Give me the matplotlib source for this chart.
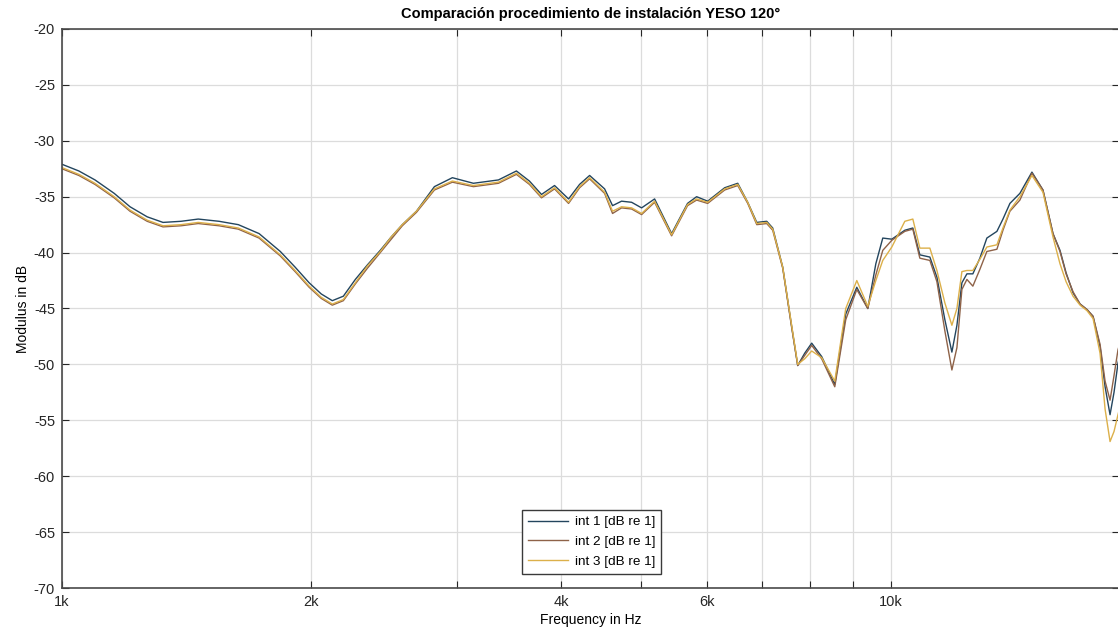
import numpy as np
import matplotlib.pyplot as plt
from matplotlib.ticker import FixedLocator, FixedFormatter, NullLocator

plt.rcParams['font.family'] = ['Liberation Sans', 'DejaVu Sans']
plt.rcParams['axes.unicode_minus'] = False

# frecuencias (Hz)
freq = [1000, 1048, 1096, 1156, 1208, 1267, 1324, 1392, 1460, 1547, 1632, 1729,
        1834, 1911, 1987, 2055, 2119, 2185, 2259, 2336, 2421, 2496, 2574, 2677,
        2814, 2958, 3136, 3362, 3534, 3664, 3789, 3929, 4085, 4212, 4331, 4515,
        4616, 4733, 4867, 5004, 5188, 5439, 5685, 5830, 6012, 6303, 6536, 6720,
        6891, 7084, 7203, 7406, 7592, 7721, 7872, 8027, 8253, 8558, 8823, 9098,
        9380, 9592, 9779, 10028, 10397, 10631, 10840, 11146, 11366, 11620, 11849,
        12016, 12183, 12354, 12560, 12807, 13058, 13428, 13655, 13922, 14314,
        14800, 15260, 15691, 16000, 16272, 16590, 16917, 17249, 17539, 17883,
        18135, 18387, 18591, 18797, 19163]

# módulo en dB de cada medición
int1 = [-32.1, -32.7, -33.5, -34.7, -35.9, -36.8, -37.3, -37.2, -37.0, -37.2, -37.5, -38.3,
        -39.9, -41.3, -42.7, -43.7, -44.3, -43.9, -42.4, -41.1, -39.8, -38.6, -37.5, -36.3,
        -34.1, -33.3, -33.8, -33.5, -32.7, -33.6, -34.8, -34.0, -35.2, -33.9, -33.1, -34.3,
        -35.8, -35.4, -35.5, -36.0, -35.2, -38.3, -35.6, -35.0, -35.4, -34.2, -33.8, -35.5,
        -37.3, -37.2, -37.8, -41.3, -46.6, -50.1, -49.0, -48.1, -49.3, -51.8, -45.5, -43.1,
        -45.0, -41.0, -38.7, -38.8, -38.0, -37.8, -40.2, -40.4, -42.2, -46.0, -48.9,
        -46.5, -42.7, -41.9, -41.9, -40.5, -38.7, -38.1, -37.0, -35.6, -34.7,
        -32.8, -34.4, -38.3, -39.8, -41.8, -43.6, -44.6, -45.1, -45.7, -48.4,
        -52.0, -54.5, -52.5, -49.9, -47.0]

int2 = [-32.5, -33.1, -33.9, -35.1, -36.3, -37.2, -37.7, -37.6, -37.4, -37.6, -37.9, -38.7,
        -40.3, -41.7, -43.1, -44.1, -44.7, -44.3, -42.8, -41.4, -40.0, -38.8, -37.6, -36.4,
        -34.4, -33.7, -34.1, -33.8, -33.0, -33.9, -35.1, -34.3, -35.6, -34.2, -33.4, -34.7,
        -36.5, -36.0, -36.1, -36.6, -35.5, -38.5, -35.8, -35.3, -35.6, -34.4, -34.0, -35.6,
        -37.5, -37.4, -38.0, -41.4, -46.7, -50.1, -49.2, -48.3, -49.5, -52.0, -46.0, -43.3,
        -45.0, -42.0, -39.8, -38.9, -38.1, -37.9, -40.5, -40.7, -42.6, -47.0, -50.5,
        -48.5, -43.3, -42.4, -43.0, -41.5, -39.9, -39.7, -38.0, -36.3, -35.3,
        -32.9, -34.4, -38.3, -39.9, -41.9, -43.5, -44.6, -45.1, -45.7, -48.2,
        -51.5, -53.2, -51.0, -48.7, -46.5]

int3 = [-32.4, -33.0, -33.8, -35.0, -36.2, -37.1, -37.6, -37.5, -37.3, -37.5, -37.8, -38.6,
        -40.2, -41.6, -43.0, -44.0, -44.6, -44.2, -42.7, -41.2, -39.9, -38.6, -37.5, -36.3,
        -34.3, -33.6, -34.0, -33.7, -32.9, -33.8, -35.0, -34.2, -35.5, -34.1, -33.3, -34.6,
        -36.3, -35.9, -36.0, -36.5, -35.4, -38.4, -35.7, -35.2, -35.5, -34.3, -33.9, -35.5,
        -37.4, -37.3, -37.9, -41.3, -46.5, -50.0, -49.5, -48.8, -49.4, -51.5, -45.0, -42.5,
        -44.8, -42.5, -40.7, -39.5, -37.2, -37.0, -39.6, -39.6, -41.6, -44.5, -46.5,
        -45.0, -41.7, -41.6, -41.6, -40.6, -39.5, -39.3, -37.8, -36.2, -35.0,
        -33.1, -34.6, -38.6, -41.0, -42.6, -43.9, -44.7, -45.2, -45.9, -49.0,
        -54.0, -56.9, -56.0, -54.5, -52.0]

labels = ['int 1 [dB re 1]', 'int 2 [dB re 1]', 'int 3 [dB re 1]']
colores = ['#23455e', '#8e6248', '#dcb04a']

xticks = [1000, 2000, 3000, 4000, 5000, 6000, 7000, 8000, 9000, 10000]
xticklabels = ['1k', '2k', '', '4k', '', '6k', '', '', '', '10k']
yticks = [-70, -65, -60, -55, -50, -45, -40, -35, -30, -25, -20]

fig = plt.figure(figsize=(11.18, 6.39), dpi=100)
ax = fig.add_axes([62 / 1118, 1 - 588 / 639, 1057 / 1118, 559 / 639])

for serie, lab, col in zip([int1, int2, int3], labels, colores):
    ax.plot(freq, serie, color=col, linewidth=1.0, label=lab)

ax.set_xscale('log')
ax.set_xlim(1000, 18850)
ax.set_ylim(-70, -20)
ax.xaxis.set_major_locator(FixedLocator(xticks))
ax.xaxis.set_major_formatter(FixedFormatter(xticklabels))
ax.xaxis.set_minor_locator(NullLocator())
ax.set_yticks(yticks)

ax.grid(True, color='#dcdcdc', linewidth=0.9)
ax.set_axisbelow(True)
ax.tick_params(direction='in', length=5, width=0.8, top=True, right=True,
               labelsize=10.5, colors='#262626', pad=5)
for s in ax.spines.values():
    s.set_color('#4a4a4a')
    s.set_linewidth(1.2)

ax.set_title('Comparación procedimiento de instalación YESO 120°', fontsize=10.5,
             fontweight='bold', pad=8)
ax.set_xlabel('Frequency in Hz', fontsize=10, labelpad=3)
ax.set_ylabel('Modulus in dB', fontsize=10, labelpad=3)

leg = ax.legend(loc='lower center', bbox_to_anchor=(0.501, 0.025), borderaxespad=0,
                fontsize=9.7, fancybox=False, framealpha=1, handlelength=3.0,
                labelspacing=0.55, borderpad=0.45, handletextpad=0.45)
leg.get_frame().set_edgecolor('#3a3a3a')
leg.get_frame().set_linewidth(1.0)

fig.savefig('out.png', dpi=100)
